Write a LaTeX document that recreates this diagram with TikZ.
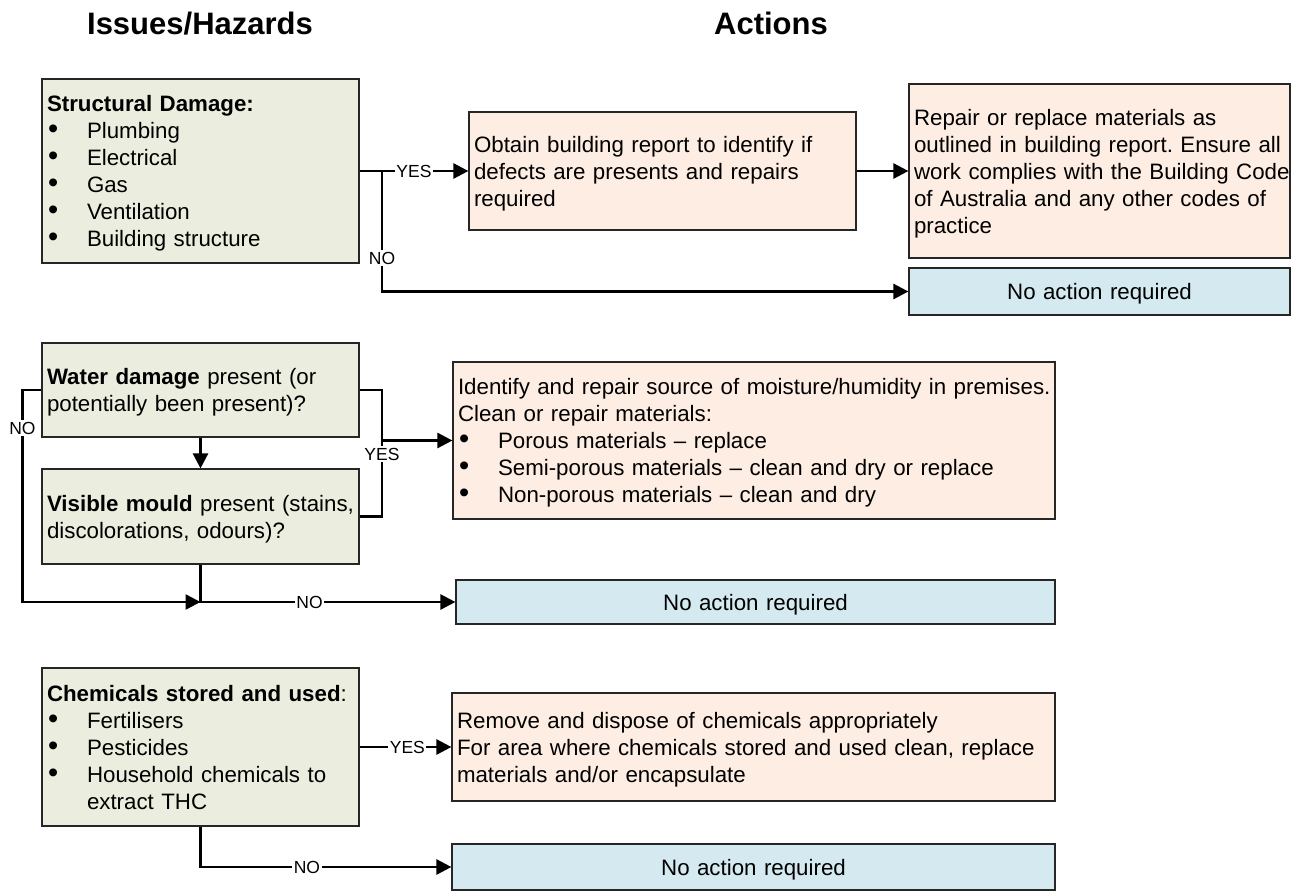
\documentclass[tikz,border=0pt]{standalone}
\usepackage{fontspec}
\usepackage{graphicx}
\setmainfont{Liberation Sans}
\usetikzlibrary{arrows.meta}
\frenchspacing

% fonts
\newcommand\bodyfont{\fontsize{22.3}{27}\selectfont}
\newcommand\lblfont{\fontsize{17.5}{20}\selectfont}
\newcommand\hdrfont{\fontsize{31}{36}\selectfont\bfseries}
% strut used on first and last line of every box text
\newcommand\ts{\rule[-5.5pt]{0pt}{27pt}}
% bullet item
\newcommand\bul{\makebox[40pt][l]{\hspace{1pt}\scalebox{1.3}{\textbullet}}}

\definecolor{issuefill}{RGB}{235,238,222}
\definecolor{actfill}{RGB}{253,237,227}
\definecolor{nonefill}{RGB}{212,234,240}

\tikzset{
  box/.style={draw=black!85, line width=1.2pt, inner xsep=5pt, inner ysep=0pt,
              align=left, font=\bodyfont},
  issue/.style={box, fill=issuefill},
  act/.style={box, fill=actfill},
  noact/.style={box, fill=nonefill, align=center},
  conn/.style={line width=2.6pt},
  arr/.style={conn, -{Triangle[length=15pt,width=15pt]}},
  lbl/.style={fill=white, inner sep=1.5pt, font=\lblfont},
  hdr/.style={font=\hdrfont, anchor=base, inner sep=0pt}
}

\begin{document}
\begin{tikzpicture}[x=1pt, y=-1pt]
\useasboundingbox (0,0) rectangle (1298,891);

% column headings
\node[hdr] (h1) at (200,35) {Issues/Hazards};
\node[hdr] (h2) at (771,35) {Actions};

% ---------------- structural damage ----------------
\node[issue, minimum width=317pt, minimum height=184pt, text width=307pt] (sd) at (200.5,171)
  {\ts\textbf{Structural Damage:}\\
   \bul Plumbing\\
   \bul Electrical\\
   \bul Gas\\
   \bul Ventilation\\
   \bul Building structure\ts};

\node[act, minimum width=387pt, minimum height=118pt, text width=377pt] (ob) at (662.5,171)
  {\ts Obtain building report to identify if\\
   defects are presents and repairs\\
   required\ts};

\node[act, minimum width=381pt, minimum height=174pt, text width=371pt] (rr) at (1099.5,171)
  {\ts Repair or replace materials as\\
   \mbox{outlined in building report. Ensure all}\\
   \mbox{work complies with the Building Code}\\
   of Australia and any other codes of\\
   practice\ts};

\node[noact, minimum width=381pt, minimum height=47pt, text width=371pt] (na1) at (1099.5,291.5)
  {\ts No action required\ts};

\coordinate (j1) at (382,171);
\draw[arr] (sd.east) -- node[lbl, pos=0.5] (yes1) {YES} (ob.west);
\draw[arr] (ob.east) -- (rr.west);
\draw[arr] (j1) |- node[lbl, pos=0.361] (no1) {NO} (na1.west);

% ---------------- water damage / mould ----------------
\node[issue, minimum width=317pt, minimum height=94pt, text width=307pt] (wd) at (200.5,390)
  {\ts\textbf{Water damage} present (or\\
   potentially been present)?\ts};

\node[issue, minimum width=317pt, minimum height=95pt, text width=307pt] (vm) at (200.5,516.5)
  {\ts\textbf{Visible mould} present (stains,\\
   discolorations, odours)?\ts};

\node[act, minimum width=602pt, minimum height=157pt, text width=592pt] (id) at (754,440.5)
  {\ts\mbox{Identify and repair source of moisture/humidity in premises.}\\
   Clean or repair materials:\\
   \bul Porous materials -- replace\\
   \bul Semi-porous materials -- clean and dry or replace\\
   \bul Non-porous materials -- clean and dry\ts};

\node[noact, minimum width=599pt, minimum height=44pt, text width=589pt] (na2) at (755.5,602)
  {\ts No action required\ts};

\coordinate (yj) at (382,440.5);
\coordinate (nj) at (200.5,602);
\draw[arr] (wd.south) -- (vm.north);
\draw[conn] (wd.east) -| (yj) |- node[lbl, pos=0.089] (yes2) {YES} (vm.east);
\draw[arr] (yj) -- (id.west);
\draw[arr] (wd.west) -- ++(-19,0) |- node[lbl, pos=0.09] (no2) {NO} (nj);
\draw[arr] (vm.south) |- node[lbl, pos=0.714] (no3) {NO} (na2.west);

% ---------------- chemicals ----------------
\node[issue, minimum width=317pt, minimum height=158pt, text width=307pt] (cs) at (200.5,747)
  {\ts\textbf{Chemicals stored and used}:\\
   \bul Fertilisers\\
   \bul Pesticides\\
   \bul Household chemicals to\\
   \hspace*{40pt}extract THC\ts};

\node[act, minimum width=603pt, minimum height=108pt, text width=593pt] (rd) at (753.5,747)
  {\ts Remove and dispose of chemicals appropriately\\
   \mbox{For area where chemicals stored and used clean, replace}\\
   materials and/or encapsulate\ts};

\node[noact, minimum width=603pt, minimum height=46pt, text width=593pt] (na3) at (753.5,867)
  {\ts No action required\ts};

\draw[arr] (cs.east) -- node[lbl, pos=0.52] (yes3) {YES} (rd.west);
\draw[arr] (cs.south) |- node[lbl, pos=0.712] (no4) {NO} (na3.west);

\end{tikzpicture}
\end{document}
